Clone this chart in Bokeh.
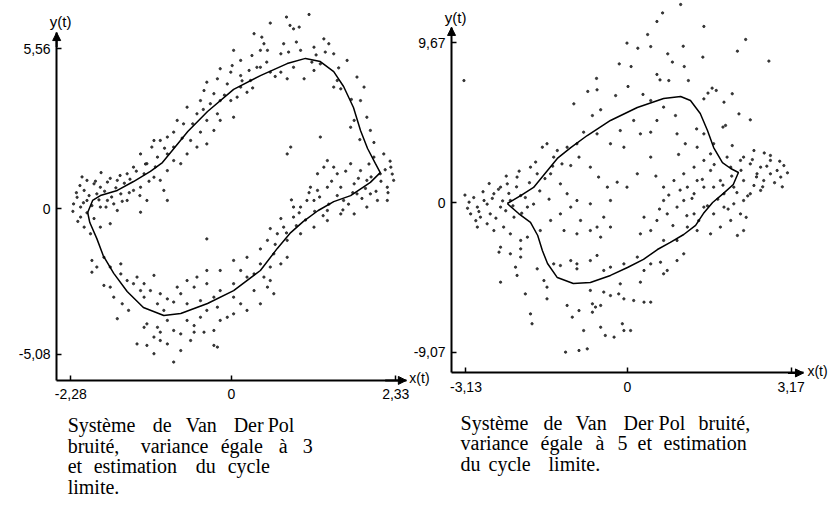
from bokeh.plotting import figure
from bokeh.models import Range1d, LinearAxis, FixedTicker, Arrow, NormalHead, Label
from bokeh.embed import file_html
from bokeh.resources import INLINE

# ---------------- data ----------------
TICKS_X1 = [-2.28, 0, 2.33]
TICK_LABELS_X1 = ["-2,28", "0", "2,33"]
TICKS_Y1 = [-5.08, 0, 5.56]
TICK_LABELS_Y1 = ["-5,08", "0", "5,56"]
TICKS_X2 = [-3.13, 0, 3.17]
TICK_LABELS_X2 = ["-3,13", "0", "3,17"]
TICKS_Y2 = [-9.07, 0, 9.67]
TICK_LABELS_Y2 = ["-9,07", "0", "9,67"]

# estimated limit cycle, variance 3
CYCLE1 = [(-2.04, -0.14), (-1.97, 0.28), (-1.86, 0.45), (-1.62, 0.63), (-1.39, 0.94),
          (-1.15, 1.29), (-0.98, 1.60), (-0.84, 2.02), (-0.62, 2.68), (-0.34, 3.38),
          (0.03, 4.15), (0.41, 4.63), (0.79, 5.05), (1.05, 5.23), (1.26, 5.12),
          (1.45, 4.77), (1.59, 4.25), (1.73, 3.52), (1.83, 2.72), (1.93, 2.09),
          (2.04, 1.57), (2.11, 1.25), (1.97, 0.91), (1.69, 0.45), (1.45, 0.24),
          (1.23, -0.07), (1.02, -0.45), (0.84, -0.84), (0.65, -1.39), (0.41, -2.16),
          (0.03, -2.86), (-0.34, -3.31), (-0.72, -3.66), (-0.96, -3.73), (-1.25, -3.45),
          (-1.48, -2.89), (-1.67, -2.26), (-1.82, -1.64), (-1.91, -1.05), (-2.01, -0.49)]

# estimated limit cycle, variance 5
CYCLE2 = [(-2.33, -0.06), (-2.07, 0.42), (-1.82, 0.91), (-1.63, 1.64), (-1.36, 2.67),
          (-1.10, 3.33), (-0.78, 4.06), (-0.33, 4.97), (0.19, 5.76), (0.70, 6.30),
          (1.03, 6.42), (1.22, 6.18), (1.41, 5.39), (1.55, 4.36), (1.67, 3.33),
          (1.84, 2.42), (2.00, 2.06), (2.15, 1.82), (2.05, 1.09), (1.86, 0.55),
          (1.65, 0.00), (1.47, -0.67), (1.32, -1.39), (1.09, -1.94), (0.83, -2.42),
          (0.58, -2.85), (0.31, -3.45), (0.00, -3.94), (-0.33, -4.42), (-0.72, -4.85),
          (-1.05, -4.91), (-1.36, -4.55), (-1.55, -3.70), (-1.65, -2.91), (-1.74, -2.00),
          (-1.88, -1.21), (-2.11, -0.67)]

# noisy observations, variance 3
NOISY1 = [
    (0.78, 6.67), (1.10, 6.76), (0.88, 6.26), (0.96, 6.32), (0.83, 6.38), (0.55, 6.46),
    (0.32, 6.09), (0.43, 5.97), (0.46, 5.74), (0.74, 5.74), (0.51, 5.51), (0.41, 5.51),
    (0.29, 5.33), (0.03, 5.51), (0.13, 5.16), (0.01, 4.98), (-0.16, 4.87), (-0.01, 4.75),
    (0.13, 4.63), (0.25, 4.81), (0.36, 4.92), (0.70, 5.39), (0.81, 5.45), (0.98, 5.51),
    (1.17, 5.62), (1.31, 5.91), (1.38, 5.74), (1.45, 5.39), (1.33, 5.45), (1.64, 5.16),
    (1.78, 4.58), (1.88, 4.23), (1.50, 4.46), (1.45, 4.23), (1.55, 4.17), (1.26, 5.04),
    (1.14, 5.10), (1.17, 4.81), (1.03, 4.52), (0.88, 4.92), (0.79, 4.52), (0.70, 4.75),
    (0.55, 4.75), (0.41, 4.92), (0.27, 4.46), (0.13, 4.23), (-0.06, 4.34), (-0.20, 4.52),
    (-0.35, 4.40), (-0.39, 4.11), (-0.25, 4.00), (-0.16, 3.76), (-0.30, 3.65), (-0.44, 3.76),
    (-0.49, 3.30), (-0.63, 3.53), (-0.68, 2.95), (-0.77, 3.07), (-0.82, 2.66), (-0.58, 2.37),
    (-0.44, 2.66), (-0.25, 2.72), (-0.35, 3.07), (-0.20, 3.30), (-0.01, 3.76), (0.08, 3.88),
    (0.22, 4.05), (0.03, 3.18), (-0.16, 3.07), (-0.35, 2.25), (-0.49, 2.14), (-0.63, 1.90),
    (-0.82, 2.14), (-0.91, 2.49), (-1.01, 2.37), (-1.10, 2.37), (-1.13, 2.14), (-1.29, 1.90),
    (-1.20, 1.56), (-1.05, 1.79), (-0.91, 1.90), (-0.82, 1.67), (-0.72, 1.56), (-0.91, 1.32),
    (-1.01, 0.98), (-1.10, 1.09), (-1.24, 1.21), (-1.39, 1.44), (-1.48, 1.21), (-1.62, 0.98),
    (-1.76, 0.92), (-1.86, 0.74), (-1.95, 0.86), (-2.05, 0.98), (-2.09, 0.63), (-2.19, 0.39),
    (-2.24, 0.16), (-2.14, 0.05), (-2.05, 0.28), (-1.91, 0.51), (-1.76, 0.28), (-1.67, 0.16),
    (-1.57, 0.51), (-1.39, 0.63), (-1.29, 0.74), (-1.48, 0.28), (-1.62, -0.07), (-1.86, 0.05),
    (-2.14, -0.30), (-2.09, -0.65), (-2.00, -0.88), (-1.86, -0.65), (-1.72, -0.53), (-1.29, -0.13),
    (-1.20, 0.28), (-0.96, 0.63), (-0.91, 0.28),
    (1.83, 3.76), (1.92, 3.18), (1.69, 2.83), (1.74, 3.07), (1.97, 2.72), (2.16, 1.90),
    (2.26, 1.44), (2.30, 0.98), (2.21, 0.74), (2.07, 0.28), (1.92, 0.05), (1.74, -0.19),
    (1.55, -0.19), (1.36, -0.07), (1.17, 0.28), (1.22, 1.21), (1.31, 1.44), (1.45, 1.44),
    (1.69, 1.56), (1.83, 1.32), (1.92, 0.98), (1.74, 0.86), (1.55, 0.74), (1.36, 0.74),
    (1.22, 0.63), (1.07, 0.28), (0.98, 0.05), (0.88, -0.30), (0.74, -0.65), (0.65, -0.88),
    (0.51, -1.11), (0.41, -1.41), (0.79, -1.11), (0.98, -0.88), (1.17, -0.65), (1.36, -0.42),
    (1.59, 0.28), (1.78, 0.51), (1.97, 0.51), (2.11, 1.21), (0.79, 1.90), (1.26, 2.49),
    (0.84, 2.14), (-0.35, -1.06), (1.36, 1.67), (2.02, 1.79), (2.21, 0.28), (1.50, 1.21),
    (1.12, 0.74), (0.88, 0.05),
    (-1.98, -1.81), (-1.91, -2.04), (-1.98, -2.22), (-1.81, -2.68), (-1.72, -2.74), (-1.67, -3.09),
    (-1.55, -3.32), (-1.46, -3.55), (-1.62, -3.84), (-1.39, -2.62), (-1.29, -2.86), (-1.24, -3.09),
    (-1.10, -2.33), (-1.34, -2.39), (-1.57, -1.93), (-1.20, -4.02), (-1.24, -4.14), (-1.05, -4.14),
    (-0.91, -3.90), (-0.82, -4.25), (-0.63, -3.90), (-0.53, -4.08), (-0.44, -3.79), (-0.35, -3.55),
    (-0.20, -3.44), (-0.44, -3.21), (-0.25, -3.09), (-0.16, -2.86), (0.03, -2.62), (0.22, -2.39),
    (0.32, -2.28), (0.46, -2.39), (0.55, -2.04), (0.70, -1.93), (0.79, -1.70), (0.60, -1.58),
    (0.03, -3.09), (0.13, -3.32), (0.22, -3.55), (0.03, -3.67), (-0.06, -3.79), (-0.16, -3.90),
    (-0.25, -4.25), (-0.39, -4.31), (-0.53, -4.31), (-0.72, -4.37), (-1.01, -4.31), (-1.10, -4.48),
    (-1.34, -4.72), (-1.20, -4.77), (-1.10, -5.06), (-1.01, -4.60), (-0.91, -4.72), (-0.72, -4.95),
    (-0.82, -5.35), (-0.58, -4.60), (-0.25, -4.77), (-0.20, -4.83), (-0.82, -3.26), (-0.91, -3.15),
    (-1.05, -3.32), (-0.96, -3.55), (-0.63, -3.32), (-0.72, -2.97), (-0.53, -2.74), (-0.35, -2.62),
    (-0.16, -2.16), (0.03, -1.81), (0.22, -1.70), (0.41, -1.93), (0.51, -2.74), (0.60, -2.97),
    (0.41, -3.32), (0.55, -2.51), (0.32, -2.86), (0.13, -2.16), (-0.35, -2.16), (-0.49, -2.39),
    (-0.63, -2.51), (-0.77, -2.74), (-1.01, -2.97), (-1.15, -2.86), (-1.24, -2.62), (-1.48, -2.51),
    (-1.57, -2.28), (-1.72, -2.04), (-1.81, -1.70),
    (-2.20, 0.55), (-2.15, 0.80), (-2.10, 0.20), (-2.02, 0.45), (-1.98, 0.10), (-1.93, 0.95),
    (-1.88, 0.30), (-1.80, 0.60), (-1.72, 1.05), (-1.70, 0.40), (-1.64, 0.72), (-1.58, 1.15),
    (-1.52, 0.88), (-1.44, 1.02), (-1.35, 1.30), (-1.30, 0.45), (-1.22, 1.55), (-1.17, 0.95),
    (-1.08, 1.45), (-2.25, -0.10), (-2.18, -0.45), (-2.05, -0.15), (-1.95, -0.35), (-1.78, 0.05),
    (-1.55, 0.25), (-1.45, 0.55), (-2.12, 1.10), (-1.85, 1.25),
    (2.25, 1.65), (2.18, 1.35), (2.12, 0.95), (2.05, 0.60), (1.98, 1.10), (1.90, 0.70),
    (1.85, 0.35), (1.80, 1.05), (1.72, 0.55), (1.66, 0.15), (1.62, 1.30), (1.58, -0.05),
    (1.50, 0.45), (1.42, 0.95), (1.38, 0.15), (1.30, -0.25), (1.25, 0.40), (1.18, -0.10),
    (1.10, 0.55), (1.05, -0.40), (0.96, -0.15), (0.92, -0.60), (0.85, 0.30), (0.78, -0.85),
    (0.70, -0.35), (0.62, -1.25), (0.55, -0.70), (2.28, 1.20), (2.22, 0.55), (1.95, 1.55),
    (-0.55, 2.95), (-0.40, 3.45), (-0.10, 3.95), (0.15, 4.45), (0.50, 5.10), (0.62, 4.60),
    (0.92, 5.80), (1.20, 5.35), (1.52, 4.90), (1.70, 3.80), (1.82, 2.40), (2.02, 2.30),
    (-0.70, 2.45), (-0.95, 2.10), (0.30, 4.20),
]

# noisy observations, variance 5
NOISY2 = [
    (1.03, 12.00), (0.68, 11.49), (0.57, 10.97), (1.48, 10.67), (0.39, 10.18), (-0.01, 9.66),
    (0.45, 9.45), (0.20, 9.35), (1.08, 9.47), (2.29, 9.88), (2.13, 9.17), (1.46, 8.81),
    (2.74, 8.57), (0.78, 9.01), (0.87, 8.51), (-0.16, 8.40), (0.07, 8.24), (0.57, 7.76),
    (0.63, 7.43), (0.80, 7.39), (1.18, 7.39), (1.10, 8.24), (-0.60, 7.52), (-0.77, 6.73),
    (-0.59, 6.83), (-1.04, 5.98), (-0.68, 5.27), (-0.52, 5.62), (-0.23, 6.48), (0.01, 7.03),
    (0.30, 6.55), (0.45, 6.18), (1.56, 6.63), (1.64, 6.93), (1.72, 6.79), (2.03, 6.59),
    (1.87, 6.08), (1.48, 6.28), (2.38, 5.01), (2.16, 5.37), (1.90, 4.67), (1.85, 4.57),
    (1.34, 4.46), (1.48, 4.16), (1.67, 3.56), (2.03, 3.45), (2.45, 3.15), (2.77, 2.85),
    (3.03, 2.24), (-3.17, 7.39),
    (0.70, 5.78), (0.93, 5.27), (0.57, 4.97), (0.12, 4.97), (-0.14, 4.36), (0.25, 4.16),
    (0.45, 4.26), (0.96, 4.16), (1.12, 3.56), (1.35, 3.35), (0.99, 2.91), (0.45, 2.75),
    (0.19, 1.74), (-0.07, 3.35), (-0.33, 3.56), (-0.59, 4.16), (-0.85, 4.26), (-0.98, 3.56),
    (-1.17, 3.35), (-1.43, 2.75), (-1.56, 3.56), (-1.65, 3.35), (-1.36, 3.15), (-1.27, 2.34),
    (-1.10, 2.24), (-0.94, 2.75), (-0.72, 2.14), (-0.56, 1.54), (-0.39, 0.93), (-0.20, 1.23),
    (-0.01, 0.93), (-0.33, 0.12), (-0.72, -0.08), (-0.98, 0.12), (-1.17, 0.53), (-1.30, 1.13),
    (-1.49, 1.74), (-1.75, 1.74), (-1.88, 2.14), (-2.14, 1.54), (-2.33, 1.13), (-2.46, 0.93),
    (-2.59, 0.53), (-2.78, 0.12), (-2.91, -0.28), (-3.04, -0.69), (-3.07, 0.02), (-2.85, -0.89),
    (-2.66, -0.69), (-2.46, -0.28), (-2.27, 0.12), (-2.07, 0.42), (-1.94, -0.28), (-2.20, -0.89),
    (-2.40, -1.49), (-2.59, -1.70), (-2.72, -1.29), (-2.91, -1.49), (-2.27, -1.90), (-2.07, -2.30),
    (-1.94, -2.10), (-1.69, -1.70), (-1.49, -1.09), (-1.30, -0.69), (-1.10, -0.28), (-0.91, -1.09),
    (-0.72, -1.70), (-0.59, -1.49), (-0.46, -0.89), (-0.33, -1.49), (-0.52, -2.10), (-0.98, -1.90),
    (-1.23, -1.70), (-2.46, -2.71), (-2.27, -3.11), (-2.07, -2.81),
    (0.70, 0.93), (0.90, 1.33), (1.09, 1.74), (1.29, 2.14), (1.48, 2.55), (1.61, 1.94),
    (1.80, 1.33), (2.00, 2.14), (2.19, 2.55), (2.38, 2.34), (2.58, 2.14), (2.77, 1.74),
    (2.90, 1.94), (2.64, 1.33), (2.45, 1.03), (2.25, 1.33), (2.06, 0.93), (1.87, 0.53),
    (1.67, 0.93), (1.48, 0.93), (1.29, 0.53), (1.09, 0.12), (0.96, -0.28), (0.77, -0.69),
    (0.57, -1.09), (0.45, -1.70), (0.25, -1.90), (0.32, -0.89), (0.70, 0.12), (1.29, -0.69),
    (1.48, -0.28), (1.67, -0.69), (1.87, -0.28), (2.06, -0.08), (2.25, 0.12), (2.38, 0.53),
    (2.58, 0.73), (2.19, -0.69), (2.00, -1.09), (1.80, -1.49), (1.61, -1.90), (1.35, -1.70),
    (1.16, -1.49), (0.96, -2.30), (0.70, -2.30), (2.13, -2.00), (2.25, -1.70), (2.51, 1.74),
    (2.77, 2.55), (2.25, 2.75), (1.93, 2.75), (1.61, 2.95), (1.35, 1.33), (1.16, 0.93),
    (2.97, 1.54),
    (-2.49, -3.01), (-2.07, -3.31), (-2.17, -3.92), (-2.14, -4.42), (-2.46, -4.83), (-1.98, -5.54),
    (-1.75, -4.02), (-1.62, -4.73), (-1.56, -5.13), (-1.43, -3.72), (-1.30, -3.82), (-0.98, -3.72),
    (-0.98, -4.02), (-1.10, -3.52), (-0.72, -3.52), (-0.59, -3.21), (-0.46, -4.12), (-0.33, -3.92),
    (-0.07, -3.72), (0.19, -3.31), (0.32, -4.12), (0.45, -3.72), (0.64, -3.62), (0.77, -4.12),
    (0.96, -3.52), (1.09, -3.11), (0.25, -4.83), (-0.14, -4.93), (-0.46, -5.43), (-0.33, -5.64),
    (-0.17, -5.54), (-0.68, -6.14), (-0.62, -6.34), (-0.52, -6.24), (-1.56, -5.84), (-1.88, -6.75),
    (-1.85, -7.35), (-1.17, -6.24), (-1.07, -6.95), (-0.94, -6.55), (-0.85, -7.76), (-0.68, -6.65),
    (-0.52, -7.56), (-0.43, -8.06), (-0.26, -8.16), (-0.10, -7.35), (-0.07, -7.76), (0.06, -7.76),
    (0.32, -6.04), (0.45, -6.04), (0.12, -5.94), (0.70, -4.32), (-1.20, -9.07), (-0.94, -8.97),
    (-0.78, -8.87), (-0.72, -5.33), (-0.07, -5.84),
    (-3.10, -0.35), (-2.98, 0.30), (-2.88, -0.55), (-2.80, 0.65), (-2.72, -0.10), (-2.62, 0.25),
    (-2.55, -0.95), (-2.50, 0.80), (-2.42, 0.10), (-2.36, -0.50), (-2.30, 0.55), (-2.22, -0.20),
    (-2.15, 0.95), (-2.05, -0.65), (-1.98, 0.30), (-1.90, 1.20), (-1.82, -0.10), (-1.70, 0.70),
    (-1.60, 1.45), (-1.52, 0.20), (-3.15, 0.45), (-2.94, -1.10), (-2.68, 1.15), (-2.35, 1.60),
    (-2.10, 1.90), (-1.78, 2.45), (-1.45, 2.20),
    (3.10, 1.80), (2.95, 2.50), (2.85, 1.20), (2.70, 2.20), (2.62, 0.95), (2.50, 1.55),
    (2.42, 2.60), (2.33, 0.40), (2.20, 1.95), (2.12, 0.60), (2.02, 1.60), (1.95, -0.40),
    (1.85, 1.05), (1.75, 0.20), (1.68, 2.30), (1.55, -0.20), (1.45, 1.40), (1.38, -1.10),
    (1.25, 0.25), (1.15, -0.80), (1.02, 0.75), (0.88, -1.40), (0.80, 0.45), (0.62, -0.40),
    (0.55, 1.60), (2.65, 3.00), (3.00, 0.95), (2.30, -0.90),
]

CAPTION1 = [["Système", "de", "Van", "Der", "Pol"],
            ["bruité,", "variance", "égale", "à", "3"],
            ["et", "estimation", "du", "cycle"],
            ["limite."]]
CAPTION2 = [["Système", "de", "Van", "Der", "Pol", "bruité,"],
            ["variance", "égale", "à", "5", "et", "estimation"],
            ["du", "cycle", "limite."]]

# ---------------- layout (pixels) ----------------
W, H = 832, 505
# data -> canvas pixel: origin pixel and pixels per unit for each panel
P1 = dict(x0=231, sx=70.5, y0=208, sy=28.7, ax=(-2.48, 2.48), ay=(-5.99, 6.13))
P2 = dict(x0=627, sx=51.6, y0=202, sy=16.5, ax=(-3.41, 3.41), ay=(-10.33, 10.61))
# word starts (px from the axes corner) and line offsets (px below the corner)
CAP1_X = [[11, 96, 129, 177, 211], [11, 84, 164, 222, 246], [11, 37, 139, 171], [11]]
CAP1_DY = [45, 65.5, 86, 106.5]
CAP2_X = [[9, 92, 124, 172, 207, 247], [9, 89, 144, 166, 186, 212], [9, 37, 97]]
CAP2_DY = [50, 70.5, 91]


def xr(g):
    return Range1d(-g["x0"] / g["sx"], (W - g["x0"]) / g["sx"])


def yr(g):
    return Range1d((g["y0"] - H) / g["sy"], g["y0"] / g["sy"])


p = figure(width=W, height=H, output_backend="svg", toolbar_location=None,
           x_axis_type=None, y_axis_type=None, min_border=0,
           x_range=xr(P1), y_range=yr(P1))
p.extra_x_ranges = {"x2": xr(P2)}
p.extra_y_ranges = {"y2": yr(P2)}
p.outline_line_color = None
p.background_fill_color = "white"
p.border_fill_color = "white"

TICK_FONT = "Liberation Sans"


def add_axis(side, ticks, labels, fixed, bounds, xname, yname):
    ax = LinearAxis(ticker=FixedTicker(ticks=ticks), fixed_location=fixed, bounds=bounds,
                    x_range_name=xname, y_range_name=yname,
                    major_label_overrides={t: l for t, l in zip(ticks, labels)},
                    axis_line_width=2, axis_line_color="black",
                    major_tick_in=5, major_tick_out=0, major_tick_line_width=1.5,
                    major_tick_line_color="black", minor_tick_line_color=None,
                    major_label_text_font=TICK_FONT, major_label_text_font_size="14px",
                    major_label_text_color="black",
                    major_label_standoff=6 if side == "left" else 9)
    p.add_layout(ax, side)


def add_head(x0, y0, x1, y1, xname, yname):
    p.add_layout(Arrow(end=NormalHead(size=8, fill_color="black", line_color="black", line_width=1),
                       x_start=x0, y_start=y0, x_end=x1, y_end=y1,
                       line_width=2, line_color="black",
                       x_range_name=xname, y_range_name=yname))


def panel(g, ticks_x, labels_x, ticks_y, labels_y, cycle, noisy, xname, yname,
          yt_dy, xt_dx, cap_words, cap_x, cap_dy):
    (x_lo, x_hi), (y_lo, y_hi) = g["ax"], g["ay"]
    # noisy data
    p.scatter([pt[0] for pt in noisy], [pt[1] for pt in noisy], size=2.3,
              color="#262626", alpha=0.9, x_range_name=xname, y_range_name=yname)
    # estimated cycle (closed)
    cx = [pt[0] for pt in cycle] + [cycle[0][0]]
    cy = [pt[1] for pt in cycle] + [cycle[0][1]]
    p.line(cx, cy, line_width=1.5, color="black", x_range_name=xname, y_range_name=yname)
    # axes
    add_axis("left", ticks_y, labels_y, x_lo, (y_lo, y_hi), xname, yname)
    add_axis("below", ticks_x, labels_x, y_lo, (x_lo, x_hi), xname, yname)
    add_head(x_lo, y_hi - 0.5, x_lo, y_hi, xname, yname)
    add_head(x_hi - 0.3, y_lo, x_hi, y_lo, xname, yname)
    p.add_layout(Label(x=x_lo, y=y_hi, text="y(t)", text_align="center", text_baseline="bottom",
                       x_offset=4, y_offset=yt_dy, text_font=TICK_FONT, text_font_size="15px",
                       text_color="black", x_range_name=xname, y_range_name=yname))
    p.add_layout(Label(x=x_hi, y=y_lo, text="x(t)", text_align="left", text_baseline="middle",
                       x_offset=xt_dx, y_offset=2, text_font=TICK_FONT, text_font_size="14px",
                       text_color="black", x_range_name=xname, y_range_name=yname))
    # caption
    for words, xs, dy in zip(cap_words, cap_x, cap_dy):
        for w, dx in zip(words, xs):
            p.add_layout(Label(x=x_lo, y=y_lo, text=w, text_align="left", text_baseline="middle",
                               x_offset=dx, y_offset=-dy, text_font="Liberation Serif",
                               text_font_size="20px", text_color="black",
                               x_range_name=xname, y_range_name=yname))


panel(P1, TICKS_X1, TICK_LABELS_X1, TICKS_Y1, TICK_LABELS_Y1, CYCLE1, NOISY1,
      "default", "default", 3, 3, CAPTION1, CAP1_X, CAP1_DY)
panel(P2, TICKS_X2, TICK_LABELS_X2, TICKS_Y2, TICK_LABELS_Y2, CYCLE2, NOISY2,
      "x2", "y2", 1, 4, CAPTION2, CAP2_X, CAP2_DY)

open("out.html", "w").write(file_html(p, INLINE))
